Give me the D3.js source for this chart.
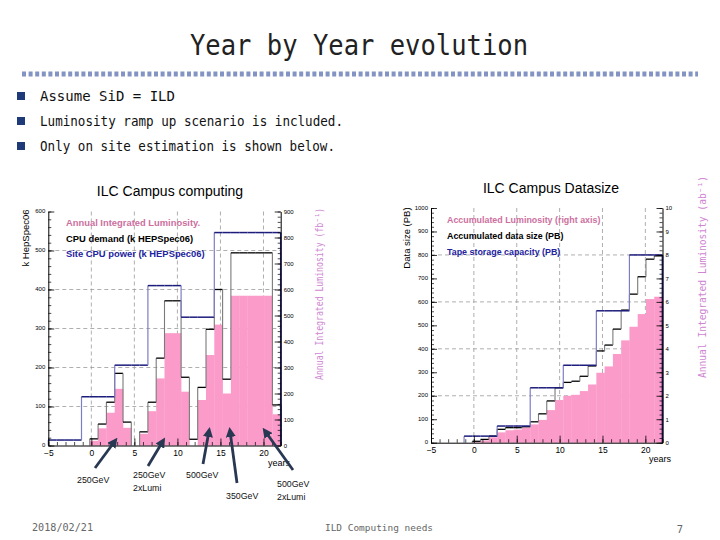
<!DOCTYPE html>
<html><head><meta charset="utf-8">
<script src="https://cdn.jsdelivr.net/npm/d3@7"></script>
<style>body{margin:0;background:#fff}svg{display:block}</style>
</head><body><svg id="c" width="720" height="540"></svg>
<script>
// ---------------- data ----------------
const yearRange = [-5, 22];          // histogram x range (years), 28 bins
const binCount = 28;
const yearTicks = [-5, 0, 5, 10, 15, 20];

// Left chart: ILC Campus computing
const annualLumi = [0,0,0,0,0,18,66,126,218,68,0,45,132,258,432,432,207,0,175,348,465,200,576,576,576,576,576,120]; // fb^-1
const cpuDemand  = [0,0,0,0,0,17,55,111,185,60,0,35,111,224,371,371,175,16,149,298,400,170,494,494,494,494,494,104]; // kHS06
const cpuPower   = [14,14,14,14,125,125,125,125,206,206,206,206,410,410,410,410,329,329,329,329,546,546,546,546,546,546,546,546];
const cpuTicks   = [0,100,200,300,400,500,600];
const lumiTicks  = [0,100,200,300,400,500,600,700,800,900];

// Right chart: ILC Campus Datasize
const accumLumi    = [0,0,0,0,0,0.02,0.09,0.23,0.44,0.53,0.56,0.64,0.78,0.97,1.39,1.82,2.0,2.04,2.2,2.48,2.98,3.25,3.78,4.36,4.94,5.48,6.12,6.22]; // ab^-1
const dataSize     = [0,0,0,0,0,6,14,28,57,64,64,68,89,123,178,234,257,262,283,327,391,416,484,565,633,707,782,796]; // PB
const tapeCapacity = [0,0,0,0,28,28,28,28,71,71,71,71,234,234,234,234,330,330,330,330,562,562,562,562,800,800,800,800];
const sizeTicks    = [0,100,200,300,400,500,600,700,800,900,1000];
const accumTicks   = [0,1,2,3,4,5,6,7,8,9,10];

// Slide text
const slideTitle = "Year by Year evolution";
const bullets = ["Assume SiD = ILD", "Luminosity ramp up scenario is included.", "Only on site estimation is shown below."];
const footer = ["2018/02/21", "ILD Computing needs", "7"];
const energyNotes = [["250GeV"], ["250GeV","2xLumi"], ["500GeV"], ["350GeV"], ["500GeV","2xLumi"]];

// ---------------- drawing ----------------
const svg = d3.select("#c");
svg.append("rect").attr("width",720).attr("height",540).attr("fill","#fff");

const SANS = "'Liberation Sans', Arial, Helvetica, sans-serif";
const MONO = "'DejaVu Sans Mono', monospace";
const PINK = "#fb9bca", PINKTXT = "#cc6fa0", NAVY = "#1c1c7c", NAVYV = "#7d7dc4", ROT = "#cf86d3";

// header
svg.append("text").attr("x",359).attr("y",55).attr("text-anchor","middle")
  .attr("font-family",MONO).attr("font-size",28).attr("fill","#222")
  .attr("textLength",338).attr("lengthAdjust","spacingAndGlyphs").text(slideTitle);
svg.append("line").attr("x1",22).attr("x2",698).attr("y1",74).attr("y2",74)
  .attr("stroke","#8394c4").attr("stroke-width",5).attr("stroke-dasharray","4,2.6");

const bulletLayout = [{y:96,w:135},{y:121,w:303},{y:146,w:295}];
bullets.forEach((b,i)=>{
  const L = bulletLayout[i];
  svg.append("rect").attr("x",17).attr("y",L.y-4).attr("width",8).attr("height",8).attr("fill","#1f3a78");
  svg.append("text").attr("x",40).attr("y",L.y+5).attr("font-family",MONO).attr("font-size",14.5)
    .attr("fill","#111").attr("textLength",L.w).attr("lengthAdjust","spacingAndGlyphs").text(b);
});

// footer
svg.append("text").attr("x",32).attr("y",531).attr("font-family",MONO).attr("font-size",10).attr("fill","#666")
  .attr("textLength",61).attr("lengthAdjust","spacingAndGlyphs").text(footer[0]);
svg.append("text").attr("x",379).attr("y",531).attr("text-anchor","middle").attr("font-family",MONO).attr("font-size",9.5).attr("fill","#666")
  .attr("textLength",108).attr("lengthAdjust","spacingAndGlyphs").text(footer[1]);
svg.append("text").attr("x",680).attr("y",533).attr("text-anchor","middle").attr("font-family",MONO).attr("font-size",10.5).attr("fill","#666").text(footer[2]);

function drawChart(cfg){
  const g = svg.append("g");
  const xb = d3.scaleLinear().domain([0,binCount]).range([cfg.x0,cfg.x1]);
  const xy = d3.scaleLinear().domain(yearRange).range([cfg.x0,cfg.x1]);
  const yl = d3.scaleLinear().domain([0,cfg.leftTicks[cfg.leftTicks.length-1]]).range([cfg.yb,cfg.yt]);
  const yr = d3.scaleLinear().domain([0,cfg.rightTicks[cfg.rightTicks.length-1]]).range([cfg.yb,cfg.yt]);

  // grid
  const grid = g.append("g").attr("stroke","#9a9a9a").attr("stroke-width",0.8).attr("stroke-dasharray","4,3");
  yearTicks.filter(t=>t>-5).forEach(t=>grid.append("line").attr("x1",xy(t)).attr("x2",xy(t)).attr("y1",cfg.yt).attr("y2",cfg.yb));
  cfg.gridY.forEach(v=>grid.append("line").attr("x1",cfg.x0).attr("x2",cfg.x1).attr("y1",yl(v)).attr("y2",yl(v)));

  // pink histogram (right axis)
  g.append("g").selectAll("rect").data(cfg.fill.map((v,i)=>({v,i})).filter(d=>d.v>0)).join("rect")
    .attr("x",d=>xb(d.i)).attr("width",d=>xb(d.i+1)-xb(d.i)+0.3)
    .attr("y",d=>yr(d.v)).attr("height",d=>cfg.yb-yr(d.v)).attr("fill",PINK);

  function step(vals, hColor, vColor, hw, vw){
    const s = g.append("g").attr("fill","none");
    let prev = 0;
    vals.forEach((v,i)=>{
      if(v!==prev) s.append("line").attr("x1",xb(i)).attr("x2",xb(i)).attr("y1",yl(prev)).attr("y2",yl(v)).attr("stroke",vColor).attr("stroke-width",vw);
      if(v>0) s.append("line").attr("x1",xb(i)).attr("x2",xb(i+1)).attr("y1",yl(v)).attr("y2",yl(v)).attr("stroke",hColor).attr("stroke-width",hw);
      prev = v;
    });
    if(prev>0) s.append("line").attr("x1",xb(binCount)).attr("x2",xb(binCount)).attr("y1",yl(prev)).attr("y2",yl(0)).attr("stroke",hColor).attr("stroke-width",hw);
  }
  step(cfg.black, "#000", "#7a7a7a", 1.3, 1.1);
  step(cfg.blue, NAVY, NAVYV, 1.5, 1.2);

  // axes
  const styleAxis = (sel, fs) => { sel.attr("font-family",SANS).attr("font-size",fs);
    sel.select(".domain").attr("stroke","#000").attr("stroke-width",1);
    sel.selectAll(".tick line").attr("stroke","#000").attr("stroke-width",0.8);
    sel.selectAll(".tick text").attr("fill","#000"); };
  const minor = (axis, vals, size, tr) => g.append("g").attr("transform",tr)
    .call(axis.tickValues(vals).tickSize(size).tickSizeOuter(0).tickFormat(""))
    .call(s=>{s.select(".domain").remove(); s.selectAll(".tick line").attr("stroke","#000").attr("stroke-width",0.7);});

  minor(d3.axisLeft(yl), d3.range(0, cfg.leftTicks[cfg.leftTicks.length-1]+0.001, cfg.leftMinor), -3, `translate(${cfg.x0},0)`);
  minor(d3.axisRight(yr), d3.range(0, cfg.rightTicks[cfg.rightTicks.length-1]+0.0001, cfg.rightMinor), -3, `translate(${cfg.x1},0)`);
  minor(d3.axisBottom(xy), d3.range(-5, 22.001, 1), -3.5, `translate(0,${cfg.yb})`);

  g.append("g").attr("transform",`translate(${cfg.x0},0)`)
    .call(d3.axisLeft(yl).tickValues(cfg.leftTicks).tickSize(-6).tickSizeOuter(0).tickPadding(3).tickFormat(d3.format("d")))
    .call(s=>styleAxis(s,6))
    .call(s=>s.selectAll(".tick text").attr("dy","0.2em"));
  g.append("g").attr("transform",`translate(${cfg.x1},0)`)
    .call(d3.axisRight(yr).tickValues(cfg.rightTicks).tickSize(-6).tickSizeOuter(0).tickPadding(3).tickFormat(d3.format("d")))
    .call(s=>styleAxis(s,6));
  g.append("g").attr("transform",`translate(0,${cfg.yb})`)
    .call(d3.axisBottom(xy).tickValues(yearTicks).tickSize(-7).tickSizeOuter(0).tickPadding(4).tickFormat(d=>d<0?"\u2212"+(-d):d))
    .call(s=>styleAxis(s,8.5));

  // titles
  g.append("text").attr("x",cfg.titleX).attr("y",cfg.titleY).attr("text-anchor","middle")
    .attr("font-family",SANS).attr("font-size",14).attr("fill","#000").text(cfg.title);
  g.append("text").attr("transform",`translate(${cfg.yTitleX},${cfg.yTitleY}) rotate(-90)`).attr("text-anchor","middle")
    .attr("font-family",SANS).attr("font-size",9.5).attr("fill","#000").text(cfg.yTitle);
  g.append("text").attr("transform",`translate(${cfg.rTitleX},${cfg.rTitleY}) rotate(-90)`).attr("text-anchor","middle")
    .attr("font-family",MONO).attr("font-size",10).attr("fill",ROT)
    .attr("textLength",cfg.rTitleLen).attr("lengthAdjust","spacingAndGlyphs").text(cfg.rTitle);
  g.append("text").attr("x",cfg.yearsX).attr("y",cfg.yearsY).attr("text-anchor","end")
    .attr("font-family",SANS).attr("font-size",9).attr("fill","#000").text("years");

  // legend
  cfg.legend.forEach((t,i)=>g.append("text").attr("x",cfg.legX).attr("y",cfg.legY+i*cfg.legDy)
    .attr("font-family",SANS).attr("font-weight","bold").attr("font-size",cfg.legFs)
    .attr("fill",[PINKTXT,"#000","#2222a0"][i]).text(t));
  return {xy, yl};
}

drawChart({x0:48.3,x1:280.7,yt:211.5,yb:445.5,leftTicks:cpuTicks,rightTicks:lumiTicks,leftMinor:20,rightMinor:20,
  gridY:[100,200,300,400,500], fill:annualLumi, black:cpuDemand, blue:cpuPower,
  title:"ILC Campus computing", titleX:170, titleY:196,
  yTitle:"k HepSpec06", yTitleX:29, yTitleY:238,
  rTitle:"Annual Integrated Luminosity (fb\u207B\u00B9)", rTitleX:323, rTitleY:294, rTitleLen:172,
  yearsX:290, yearsY:466,
  legend:["Annual Integrated Luminosity.","CPU demand (k HEPSpec06)","Site CPU power (k HEPSpec06)"],
  legX:66, legY:226, legDy:15.5, legFs:9.4});

drawChart({x0:431,x1:662.5,yt:208,yb:442.7,leftTicks:sizeTicks,rightTicks:accumTicks,leftMinor:20,rightMinor:0.2,
  gridY:[200,400,600,800], fill:accumLumi, black:dataSize, blue:tapeCapacity,
  title:"ILC Campus Datasize", titleX:551, titleY:193,
  yTitle:"Data size (PB)", yTitleX:410, yTitleY:238,
  rTitle:"Annual Integrated Luminosity (ab\u207B\u00B9)", rTitleX:706, rTitleY:277, rTitleLen:202,
  yearsX:671, yearsY:462,
  legend:["Accumulated Luminosity (right axis)","Accumulated data size (PB)","Tape storage capacity (PB)"],
  legX:447, legY:223, legDy:16, legFs:8.9});

// energy annotations with arrows
const noteLayout = [
  {tx:77, ty:483, ax:[95,468], ah:[115,441]},
  {tx:133,ty:478, ax:[148,466], ah:[163,441]},
  {tx:186,ty:478, ax:[203,464], ah:[209,431]},
  {tx:226,ty:499, ax:[237,483], ah:[230,431]},
  {tx:277,ty:487, ax:[293,470], ah:[265,431]}
];
const defs = svg.append("defs");
defs.append("marker").attr("id","ah").attr("viewBox","0 0 10 10").attr("refX",6).attr("refY",5)
  .attr("markerWidth",3.6).attr("markerHeight",3.6).attr("orient","auto")
  .append("path").attr("d","M0,0 L10,5 L0,10 Z").attr("fill","#283852");
energyNotes.forEach((lines,i)=>{
  const L = noteLayout[i];
  svg.append("line").attr("x1",L.ax[0]).attr("y1",L.ax[1]).attr("x2",L.ah[0]).attr("y2",L.ah[1])
    .attr("stroke","#283852").attr("stroke-width",2.8).attr("marker-end","url(#ah)");
  lines.forEach((t,j)=>svg.append("text").attr("x",L.tx).attr("y",L.ty+j*13)
    .attr("font-family",SANS).attr("font-size",8.8).attr("fill","#111").text(t));
});
</script></body></html>
